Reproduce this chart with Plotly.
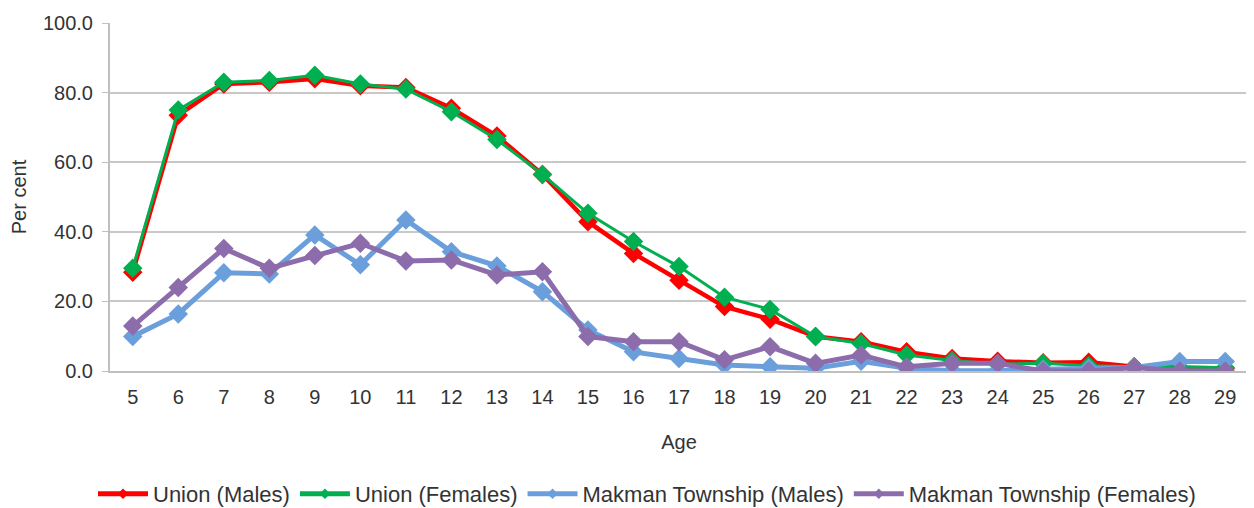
import plotly.graph_objects as go

ages = [str(a) for a in range(5, 30)]

union_males = [28.4, 73.5, 82.5, 83.0, 84.0, 82.0, 81.5, 75.5, 67.5, 56.5, 42.9, 33.8, 26.1, 18.5, 14.9, 9.9, 8.4, 5.5, 3.6, 2.8, 2.4, 2.5, 1.2, 0.8, 0.7]
union_females = [29.5, 75.0, 83.0, 83.5, 85.0, 82.5, 81.0, 74.5, 66.5, 56.5, 45.3, 37.2, 30.0, 21.2, 17.7, 9.9, 7.9, 4.6, 3.0, 2.0, 2.2, 1.5, 1.2, 1.0, 1.0]
makman_males = [9.9, 16.4, 28.2, 27.9, 39.1, 30.5, 43.4, 34.3, 30.2, 22.8, 11.8, 5.5, 3.6, 1.7, 1.2, 0.8, 2.8, 0.8, 0.1, 0.1, 0.5, 0.8, 1.0, 2.7, 2.7]
makman_females = [12.9, 24.0, 35.2, 29.5, 33.2, 36.7, 31.6, 31.9, 27.6, 28.5, 9.9, 8.4, 8.4, 3.2, 7.0, 2.2, 4.6, 1.2, 2.2, 2.2, 0.0, 0.0, 1.0, 0.0, 0.0]

series = [
    ("Union (Males)", union_males, "#ff0000", 4.5),
    ("Union (Females)", union_females, "#00b050", 3),
    ("Makman Township (Males)", makman_males, "#6a9fdc", 5),
    ("Makman Township (Females)", makman_females, "#8d6cab", 5),
]

fig = go.Figure()
for name, vals, color, w in series:
    fig.add_trace(go.Scatter(
        x=ages, y=vals, name=name, mode="lines+markers",
        line=dict(color=color, width=w),
        marker=dict(symbol="diamond", size=15, color=color),
        legendgroup=name, showlegend=False,
    ))
# legend entries (thick line with small diamond, as in the reference)
for name, vals, color, w in series:
    fig.add_trace(go.Scatter(
        x=[ages[0]], y=[None], name=name, mode="lines+markers",
        line=dict(color=color, width=5),
        marker=dict(symbol="diamond", size=8, color=color),
        legendgroup=name, showlegend=True, hoverinfo="skip",
    ))

fig.update_layout(
    width=1246, height=500,
    margin=dict(l=102, r=6, t=15, b=137),
    paper_bgcolor="white", plot_bgcolor="white",
    font=dict(family="Liberation Sans, Arial, sans-serif", size=20, color="#333333"),
    showlegend=True,
    legend=dict(orientation="h", xref="container", x=639 / 1246, xanchor="center",
                yref="container", y=14 / 500, yanchor="middle",
                font=dict(size=22), itemwidth=50),
    xaxis=dict(
        type="category", range=[-0.5, 24.5], automargin=False,
        title=dict(text="Age", standoff=28, font=dict(size=20)),
        showgrid=False, showline=True, linecolor="#bfbfbf", linewidth=2,
        ticks="", tickfont=dict(size=20), ticklabelstandoff=7,
    ),
    yaxis=dict(
        range=[0, 100], dtick=20, tickformat=".1f", automargin=False,
        title=dict(text="Per cent", standoff=18, font=dict(size=20)),
        showgrid=True, gridcolor="#c8c8c8", gridwidth=1.5,
        showline=True, linecolor="#bfbfbf", linewidth=2,
        ticks="outside", ticklen=6, tickcolor="#bfbfbf",
        zeroline=False, tickfont=dict(size=20), ticklabelstandoff=5,
    ),
)

fig.write_html("out.html")
